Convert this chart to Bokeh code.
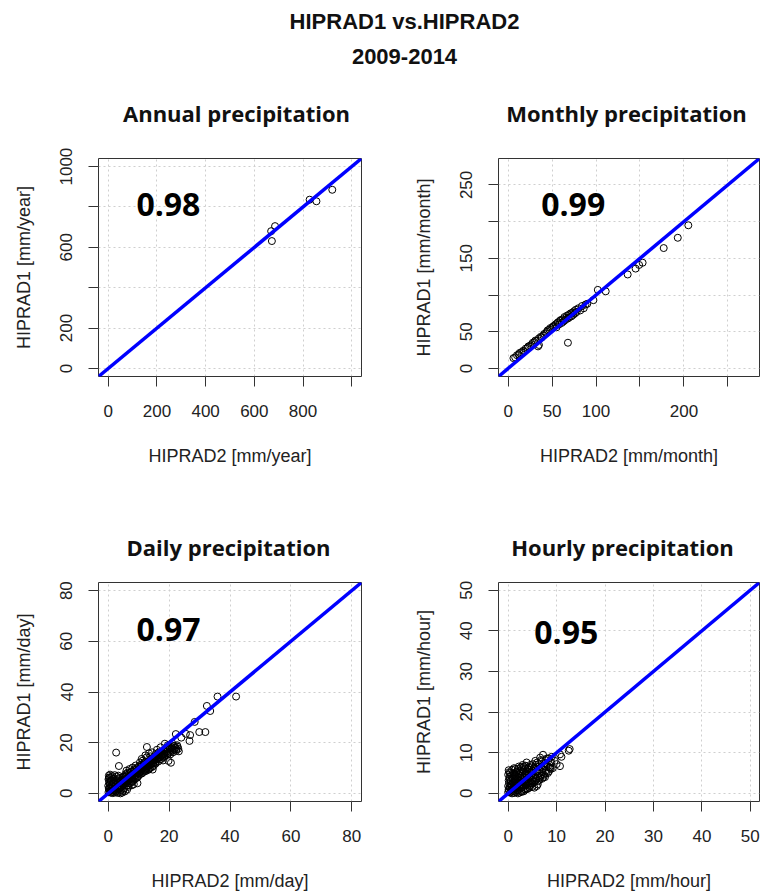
from bokeh.plotting import figure
from bokeh.models import Label, Slope, FixedTicker, Range1d
from bokeh.layouts import column, row
from bokeh.embed import file_html
from bokeh.resources import INLINE

# ---------------- data ----------------
# Annual totals (HIPRAD2 on x, HIPRAD1 on y), mm/year
annual_hiprad2 = [669, 672, 685, 827, 855, 920]
annual_hiprad1 = [680, 631, 705, 836, 828, 885]

# Monthly totals, mm/month
monthly_hiprad2 = [6, 8, 10, 12, 13, 15, 17, 18, 20, 22, 23, 25, 27, 28, 30, 31, 33, 34, 35, 35,
                   37, 38, 40, 41, 43, 44, 45, 47, 48, 50, 51, 52, 54, 55, 56, 57, 58, 59, 60, 61,
                   62, 63, 64, 65, 66, 67, 68, 68, 69, 70, 71, 72, 73, 74, 75, 76, 77, 78, 80, 82,
                   84, 86, 88, 90, 97, 102, 111, 136, 145, 149, 153, 177, 193, 205]
monthly_hiprad1 = [14, 15, 18, 19, 21, 22, 24, 23, 27, 28, 30, 31, 33, 35, 36, 38, 38, 30, 32, 41,
                   43, 42, 45, 47, 48, 50, 52, 53, 55, 55, 57, 58, 60, 56, 62, 63, 60, 65, 66, 62,
                   67, 64, 70, 66, 69, 72, 35, 68, 73, 70, 75, 71, 76, 73, 78, 75, 80, 77, 82, 79,
                   85, 82, 87, 88, 93, 107, 105, 128, 136, 141, 144, 164, 178, 195]

# Daily totals, mm/day
daily_hiprad2 = [0.1, 0.2, 0.0, 0.3, 0.1, 0.4, 0.2, 0.6, 0.8, 0.5, 0.9, 1.0, 0.3, 0.7, 0.2,
                 1.5, 2.2, 3.0, 3.8, 4.6, 5.5, 2.8, 4.0, 6.2,
                 1.2, 1.5, 1.8, 2.0, 2.3, 2.5, 2.7, 3.0, 3.2, 3.4, 3.6, 3.8, 4.0, 4.2, 4.4, 4.6,
                 4.8, 5.0, 5.2, 1.4, 2.1, 3.3, 2.6, 4.9,
                 2.6, 3.5,
                 5.3, 5.5, 5.7, 5.9, 6.1, 6.3, 6.5, 6.7, 6.9, 7.1, 7.3, 7.5, 7.7, 7.9, 8.1, 8.3,
                 8.5, 8.7, 8.9, 9.1, 9.3, 9.5, 9.7, 9.9, 6.0, 7.0, 8.0, 9.0, 9.6, 8.4,
                 10.1, 10.3, 10.5, 10.7, 10.9, 11.1, 11.3, 11.5, 11.7, 11.9, 12.1, 12.3, 12.5,
                 12.7, 12.9, 13.1, 13.3, 13.5, 13.7, 13.9, 14.1, 14.3, 14.5, 14.7, 14.9, 10.4,
                 11.4, 12.6, 12.7, 13.8, 14.6,
                 15.1, 15.3, 15.5, 15.7, 15.9, 16.1, 16.3, 16.5, 16.7, 16.9, 17.1, 17.3, 17.5,
                 17.7, 17.9, 18.1, 18.3, 18.5, 18.7, 18.9, 19.1, 19.3, 19.5, 19.7, 19.9, 20.2,
                 20.5, 20.6, 20.8, 21.1, 21.4, 21.7, 22.0, 22.3, 22.6, 23.0, 18.6, 19.8,
                 22.2, 24.0, 25.5, 26.7, 26.9, 28.4, 29.9, 31.9, 32.4, 33.5, 35.9, 42.0,
                 0.5, 0.7, 1.1, 1.3, 1.6, 1.9, 2.2, 2.4, 2.9, 3.1, 3.5, 3.9, 4.1, 4.3, 4.7,
                 5.1, 1.0, 1.7, 2.8, 0.6,
                 5.4, 5.6, 5.8, 6.0, 6.2, 6.4, 6.6, 6.8, 7.0, 7.2, 7.4, 7.6, 7.8, 8.0, 8.2,
                 8.4, 8.6, 8.8, 9.0, 9.2, 9.4, 9.6, 9.8, 5.0, 6.6, 7.8,
                 10.0, 10.2, 10.6, 10.8, 11.0, 11.2, 11.6, 11.8, 12.0, 12.2, 12.4, 12.8, 13.0,
                 13.2, 13.4, 13.6, 13.8, 14.0, 14.2, 14.4, 14.8, 11.0, 12.2, 13.4, 14.4,
                 15.0, 15.4, 15.8, 16.2, 16.6, 17.0, 17.4, 17.8, 18.2, 18.6, 19.0, 19.4, 20.0,
                 20.4, 20.9, 21.3, 21.8, 22.4, 22.8, 23.2, 16.0, 17.2, 19.6, 21.0, 15.6, 18.0]
daily_hiprad1 = [0.5, 1.8, 3.0, 4.2, 5.5, 6.3, 7.0, 2.5, 0.3, 3.6, 5.0, 1.2, 2.2, 4.8, 6.0,
                 0.1, 0.4, 0.2, 0.6, 0.3, 0.8, 1.0, 0.0, 1.5,
                 2.0, 3.2, 4.5, 1.5, 2.8, 5.2, 3.5, 2.4, 4.1, 6.0, 1.8, 3.4, 5.0, 2.6, 4.4, 6.2,
                 3.2, 4.8, 2.0, 6.8, 7.2, 7.0, 0.8, 1.0,
                 16.1, 10.8,
                 5.6, 3.8, 6.8, 4.5, 7.2, 5.0, 3.2, 6.3, 8.0, 5.5, 7.0, 4.2, 8.6, 6.4, 7.6, 5.2,
                 9.0, 7.0, 8.2, 6.0, 9.5, 7.8, 8.8, 6.8, 9.0, 9.6, 10.2, 11.0, 4.0, 3.6,
                 9.0, 7.5, 10.4, 8.6, 9.8, 11.0, 8.2, 10.0, 9.2, 11.6, 10.4, 8.8, 11.2,
                 10.0, 12.0, 10.8, 9.6, 12.4, 11.2, 10.2, 12.8, 11.6, 13.4, 12.0, 10.8, 12.2,
                 13.0, 14.2, 18.3, 14.6, 9.4,
                 13.2, 14.0, 12.2, 14.6, 13.4, 15.0, 13.8, 12.6, 15.4, 14.2, 16.0, 14.8, 13.6,
                 16.4, 15.2, 17.0, 15.6, 14.4, 17.6, 16.2, 18.0, 16.6, 15.2, 17.4, 16.0, 17.8,
                 16.4, 12.1, 18.2, 17.0, 18.6, 17.2, 18.0, 16.8, 19.0, 17.6, 19.6, 12.8,
                 23.4, 22.0, 23.5, 20.7, 23.0, 28.2, 24.2, 24.2, 34.5, 32.5, 38.2, 38.2,
                 1.0, 2.0, 3.0, 0.6, 2.4, 3.8, 1.2, 4.0, 2.0, 5.6, 3.0, 4.6, 1.4, 3.8, 5.4,
                 3.4, 6.4, 5.8, 6.6, 7.4,
                 4.6, 7.6, 5.2, 3.0, 6.0, 8.2, 4.8, 7.0, 4.0, 6.2, 8.6, 5.8, 7.4, 4.8, 8.4,
                 6.6, 9.6, 5.6, 8.0, 7.2, 10.0, 6.4, 9.2, 6.6, 2.6, 3.2,
                 10.6, 8.2, 9.4, 11.4, 7.8, 10.2, 11.8, 8.6, 12.2, 9.4, 10.8, 11.6, 9.2,
                 12.6, 11.0, 9.8, 12.8, 11.4, 13.8, 10.4, 13.0, 13.6, 15.0, 15.8, 16.2,
                 14.2, 13.0, 15.6, 14.0, 16.2, 13.4, 15.8, 14.4, 16.8, 15.0, 17.2, 15.8, 18.6,
                 15.4, 17.6, 16.2, 18.8, 17.4, 18.4, 16.6, 17.2, 18.2, 19.0, 19.8, 11.8, 13.0]

# Hourly totals, mm/hour
hourly_hiprad2 = [0.0, 0.1, 0.0, 0.2, 0.1, 0.3, 0.0, 0.2, 0.1, 0.4, 0.3, 0.5, 0.6, 0.4,
                  0.8, 1.2, 1.6, 2.0, 2.4, 2.8, 3.2, 1.8, 3.6, 4.0, 4.4, 5.0, 5.9,
                  0.7, 0.9, 1.0, 1.1, 1.2, 1.3, 1.4, 1.5, 1.6, 1.7, 1.8, 1.9, 2.0, 2.1, 2.2,
                  2.3, 2.4, 2.5, 2.6, 2.7, 2.8, 2.9, 3.0, 3.1, 3.2, 3.3, 3.4, 3.5, 3.6, 3.7,
                  3.8, 3.9, 4.0,
                  4.1, 4.2, 4.3, 4.4, 4.5, 4.6, 4.7, 4.8, 4.9, 5.0, 5.2, 5.3, 5.4, 5.6, 5.7,
                  5.8, 6.0, 6.1, 6.2, 6.3, 6.4, 6.5, 6.7, 6.8, 6.9, 7.0, 7.2, 7.3, 7.4, 7.6,
                  7.7, 7.8, 8.0, 8.2, 8.4, 8.5, 8.7, 8.9, 9.0, 9.2, 2.2, 3.0, 1.5,
                  10.0, 10.7, 10.7, 11.0, 12.5, 12.7, 9.6,
                  0.2, 0.3, 0.5, 0.6, 0.7, 0.8, 0.9, 1.0, 1.1, 1.2, 1.3, 1.4, 1.5, 1.6, 1.7,
                  1.8, 1.9, 2.0, 2.1, 2.2, 2.3, 2.4, 2.5, 2.6, 2.7, 2.8, 2.9, 3.0, 3.1, 3.2,
                  3.3, 3.4, 3.5, 3.6, 3.7, 3.8, 3.9, 4.0, 0.4, 0.8, 1.2,
                  4.2, 4.4, 4.6, 4.8, 5.0, 5.1, 5.2, 5.4, 5.6, 5.8, 6.0, 6.2, 6.4, 6.6, 6.8,
                  7.0, 7.2, 7.4, 7.6, 7.8, 8.0, 8.2, 8.4, 8.6, 8.8, 4.6, 5.6, 6.6, 3.8, 4.4, 5.4]
hourly_hiprad1 = [0.3, 1.0, 1.8, 2.5, 3.2, 4.0, 4.6, 5.2, 5.7, 1.4, 3.6, 2.0, 4.4, 0.2,
                  0.0, 0.1, 0.3, 0.0, 0.2, 0.4, 0.5, 0.8, 0.9, 1.1, 1.4, 1.6, 1.8,
                  1.0, 2.6, 3.6, 1.6, 4.8, 2.2, 3.0, 1.2, 4.2, 2.6, 5.4, 1.8, 3.4, 2.4, 4.6,
                  1.6, 3.0, 5.6, 2.0, 3.8, 1.4, 4.4, 2.6, 5.8, 3.2, 1.9, 4.0, 6.2, 2.8, 4.8,
                  2.2, 5.4, 3.4,
                  4.6, 2.6, 6.4, 3.8, 5.2, 2.4, 4.2, 6.6, 3.2, 5.0, 3.8, 6.0, 2.8, 4.6, 7.0,
                  3.6, 5.4, 2.2, 4.2, 7.2, 5.8, 3.4, 6.4, 4.4, 7.8, 5.2, 9.5, 4.0, 6.8, 4.0,
                  8.2, 5.6, 7.2, 5.0, 8.6, 6.4, 6.3, 7.6, 9.0, 6.2, 6.6, 7.0, 6.0,
                  7.2, 6.7, 9.6, 9.0, 10.5, 10.9, 8.0,
                  0.6, 1.6, 3.0, 0.4, 2.2, 3.8, 1.2, 5.0, 0.6, 2.8, 4.2, 0.4, 3.6, 1.4, 5.2,
                  2.0, 4.0, 6.0, 0.8, 3.2, 5.0, 1.4, 4.2, 6.4, 0.6, 2.8, 5.4, 1.6, 4.0, 6.6,
                  3.0, 1.0, 4.8, 6.8, 2.0, 4.2, 1.2, 6.0, 5.0, 5.8, 6.2,
                  4.0, 5.8, 3.4, 5.2, 2.4, 7.2, 4.4, 6.4, 3.2, 5.4, 7.6, 3.0, 6.6, 4.0, 8.2,
                  3.6, 6.0, 4.6, 7.4, 5.0, 8.6, 6.6, 5.4, 7.8, 6.0, 7.0, 8.0, 8.8, 7.6, 1.8, 1.4]

panel_titles = ["Annual precipitation", "Monthly precipitation",
                "Daily precipitation", "Hourly precipitation"]
units = ["mm/year", "mm/month", "mm/day", "mm/hour"]
correlations = ["0.98", "0.99", "0.97", "0.95"]

annual_ticks = [0, 200, 400, 600, 800, 1000]
monthly_ticks = [0, 50, 100, 150, 200, 250]
daily_ticks = [0, 20, 40, 60, 80]
hourly_ticks = [0, 10, 20, 30, 40, 50]

main_title = "HIPRAD1 vs.HIPRAD2"
period = "2009-2014"

# ---------------- styling ----------------
LABEL_FONT = "Liberation Sans"
TITLE_FONT = "Open Sans"
INK = "#222222"


def make_panel(xs, ys, unit, corr, corr_xy, ticks, lims, hide_x, hide_y, height, borders):
    left, right, top, bottom = borders
    p = figure(width=380, height=height, output_backend="svg", toolbar_location=None,
               x_range=Range1d(*lims), y_range=Range1d(*lims),
               min_border_left=left, min_border_right=right,
               min_border_top=top, min_border_bottom=bottom)

    p.background_fill_color = "white"
    p.border_fill_color = "white"
    p.outline_line_color = "#333333"
    p.outline_line_width = 1

    for ax, hidden in ((p.xaxis[0], hide_x), (p.yaxis[0], hide_y)):
        ax.ticker = FixedTicker(ticks=ticks, minor_ticks=[])
        ax.major_label_overrides = {t: "" for t in hidden}
        ax.axis_line_color = None
        ax.major_tick_line_color = "#333333"
        ax.major_tick_out = 10
        ax.major_tick_in = 0
        ax.minor_tick_out = 0
        ax.minor_tick_in = 0
        ax.major_label_text_font = LABEL_FONT
        ax.major_label_text_font_size = "17px"
        ax.major_label_text_color = INK
        ax.axis_label_text_font = LABEL_FONT
        ax.axis_label_text_font_size = "18px"
        ax.axis_label_text_font_style = "normal"
        ax.axis_label_text_color = INK

    p.xaxis.axis_label = f"HIPRAD2 [{unit}]"
    p.yaxis.axis_label = f"HIPRAD1 [{unit}]"
    p.xaxis.major_label_standoff = 18
    p.xaxis.axis_label_standoff = 26
    p.yaxis.major_label_standoff = 16
    p.yaxis.major_label_orientation = "vertical"
    p.yaxis.axis_label_standoff = 24

    p.grid.grid_line_color = "#cfcfcf"
    p.grid.grid_line_dash = "2 3"
    p.grid.grid_line_width = 1

    p.scatter(xs, ys, marker="circle", size=7, fill_color=None,
              line_color="black", line_width=1)
    p.add_layout(Slope(gradient=1, y_intercept=0, line_color="blue", line_width=3.5))
    p.add_layout(Label(x=corr_xy[0], y=corr_xy[1], text=corr, text_align="center",
                       text_baseline="middle", text_font=TITLE_FONT,
                       text_font_style="bold", text_font_size="32px",
                       text_color="black"))
    return p


def text_strip(height, items):
    """Blank full-width strip (pixel coordinates, y downwards) carrying headings."""
    s = figure(width=760, height=height, output_backend="svg", toolbar_location=None,
               x_range=Range1d(0, 760), y_range=Range1d(height, 0),
               min_border=0, outline_line_color=None)
    s.axis.visible = False
    s.grid.visible = False
    for txt, x, y, font, size in items:
        s.add_layout(Label(x=x, y=y, text=txt, text_align="center", text_baseline="middle",
                           text_font=font, text_font_style="bold",
                           text_font_size=size, text_color="#111111"))
    return s


head = text_strip(140, [
    (main_title, 404, 20.5, LABEL_FONT, "22px"),
    (period, 404, 55.5, LABEL_FONT, "22px"),
    (panel_titles[0], 236, 112, TITLE_FONT, "22px"),
    (panel_titles[1], 626, 112, TITLE_FONT, "22px"),
])
mid = text_strip(40, [
    (panel_titles[2], 228, 16, TITLE_FONT, "22px"),
    (panel_titles[3], 622, 16, TITLE_FONT, "22px"),
])

p1 = make_panel(annual_hiprad2, annual_hiprad1, units[0], correlations[0],
                (247, 813), annual_ticks, (-40, 1040), [1000], [400, 800],
                390, (98, 19, 18, 154))
p2 = make_panel(monthly_hiprad2, monthly_hiprad1, units[1], correlations[1],
                (74, 223), monthly_ticks, (-11, 286), [150, 250], [100, 200],
                390, (118, 1, 18, 154))
p3 = make_panel(daily_hiprad2, daily_hiprad1, units[2], correlations[2],
                (19.8, 64.5), daily_ticks, (-3.2, 83.2), [], [],
                325, (98, 19, 12, 94))
p4 = make_panel(hourly_hiprad2, hourly_hiprad1, units[3], correlations[3],
                (12, 39.7), hourly_ticks, (-2.0, 51.9), [], [],
                325, (118, 1, 12, 94))

layout = column(head, row(p1, p2), mid, row(p3, p4))
open("out.html", "w").write(file_html(layout, INLINE))
